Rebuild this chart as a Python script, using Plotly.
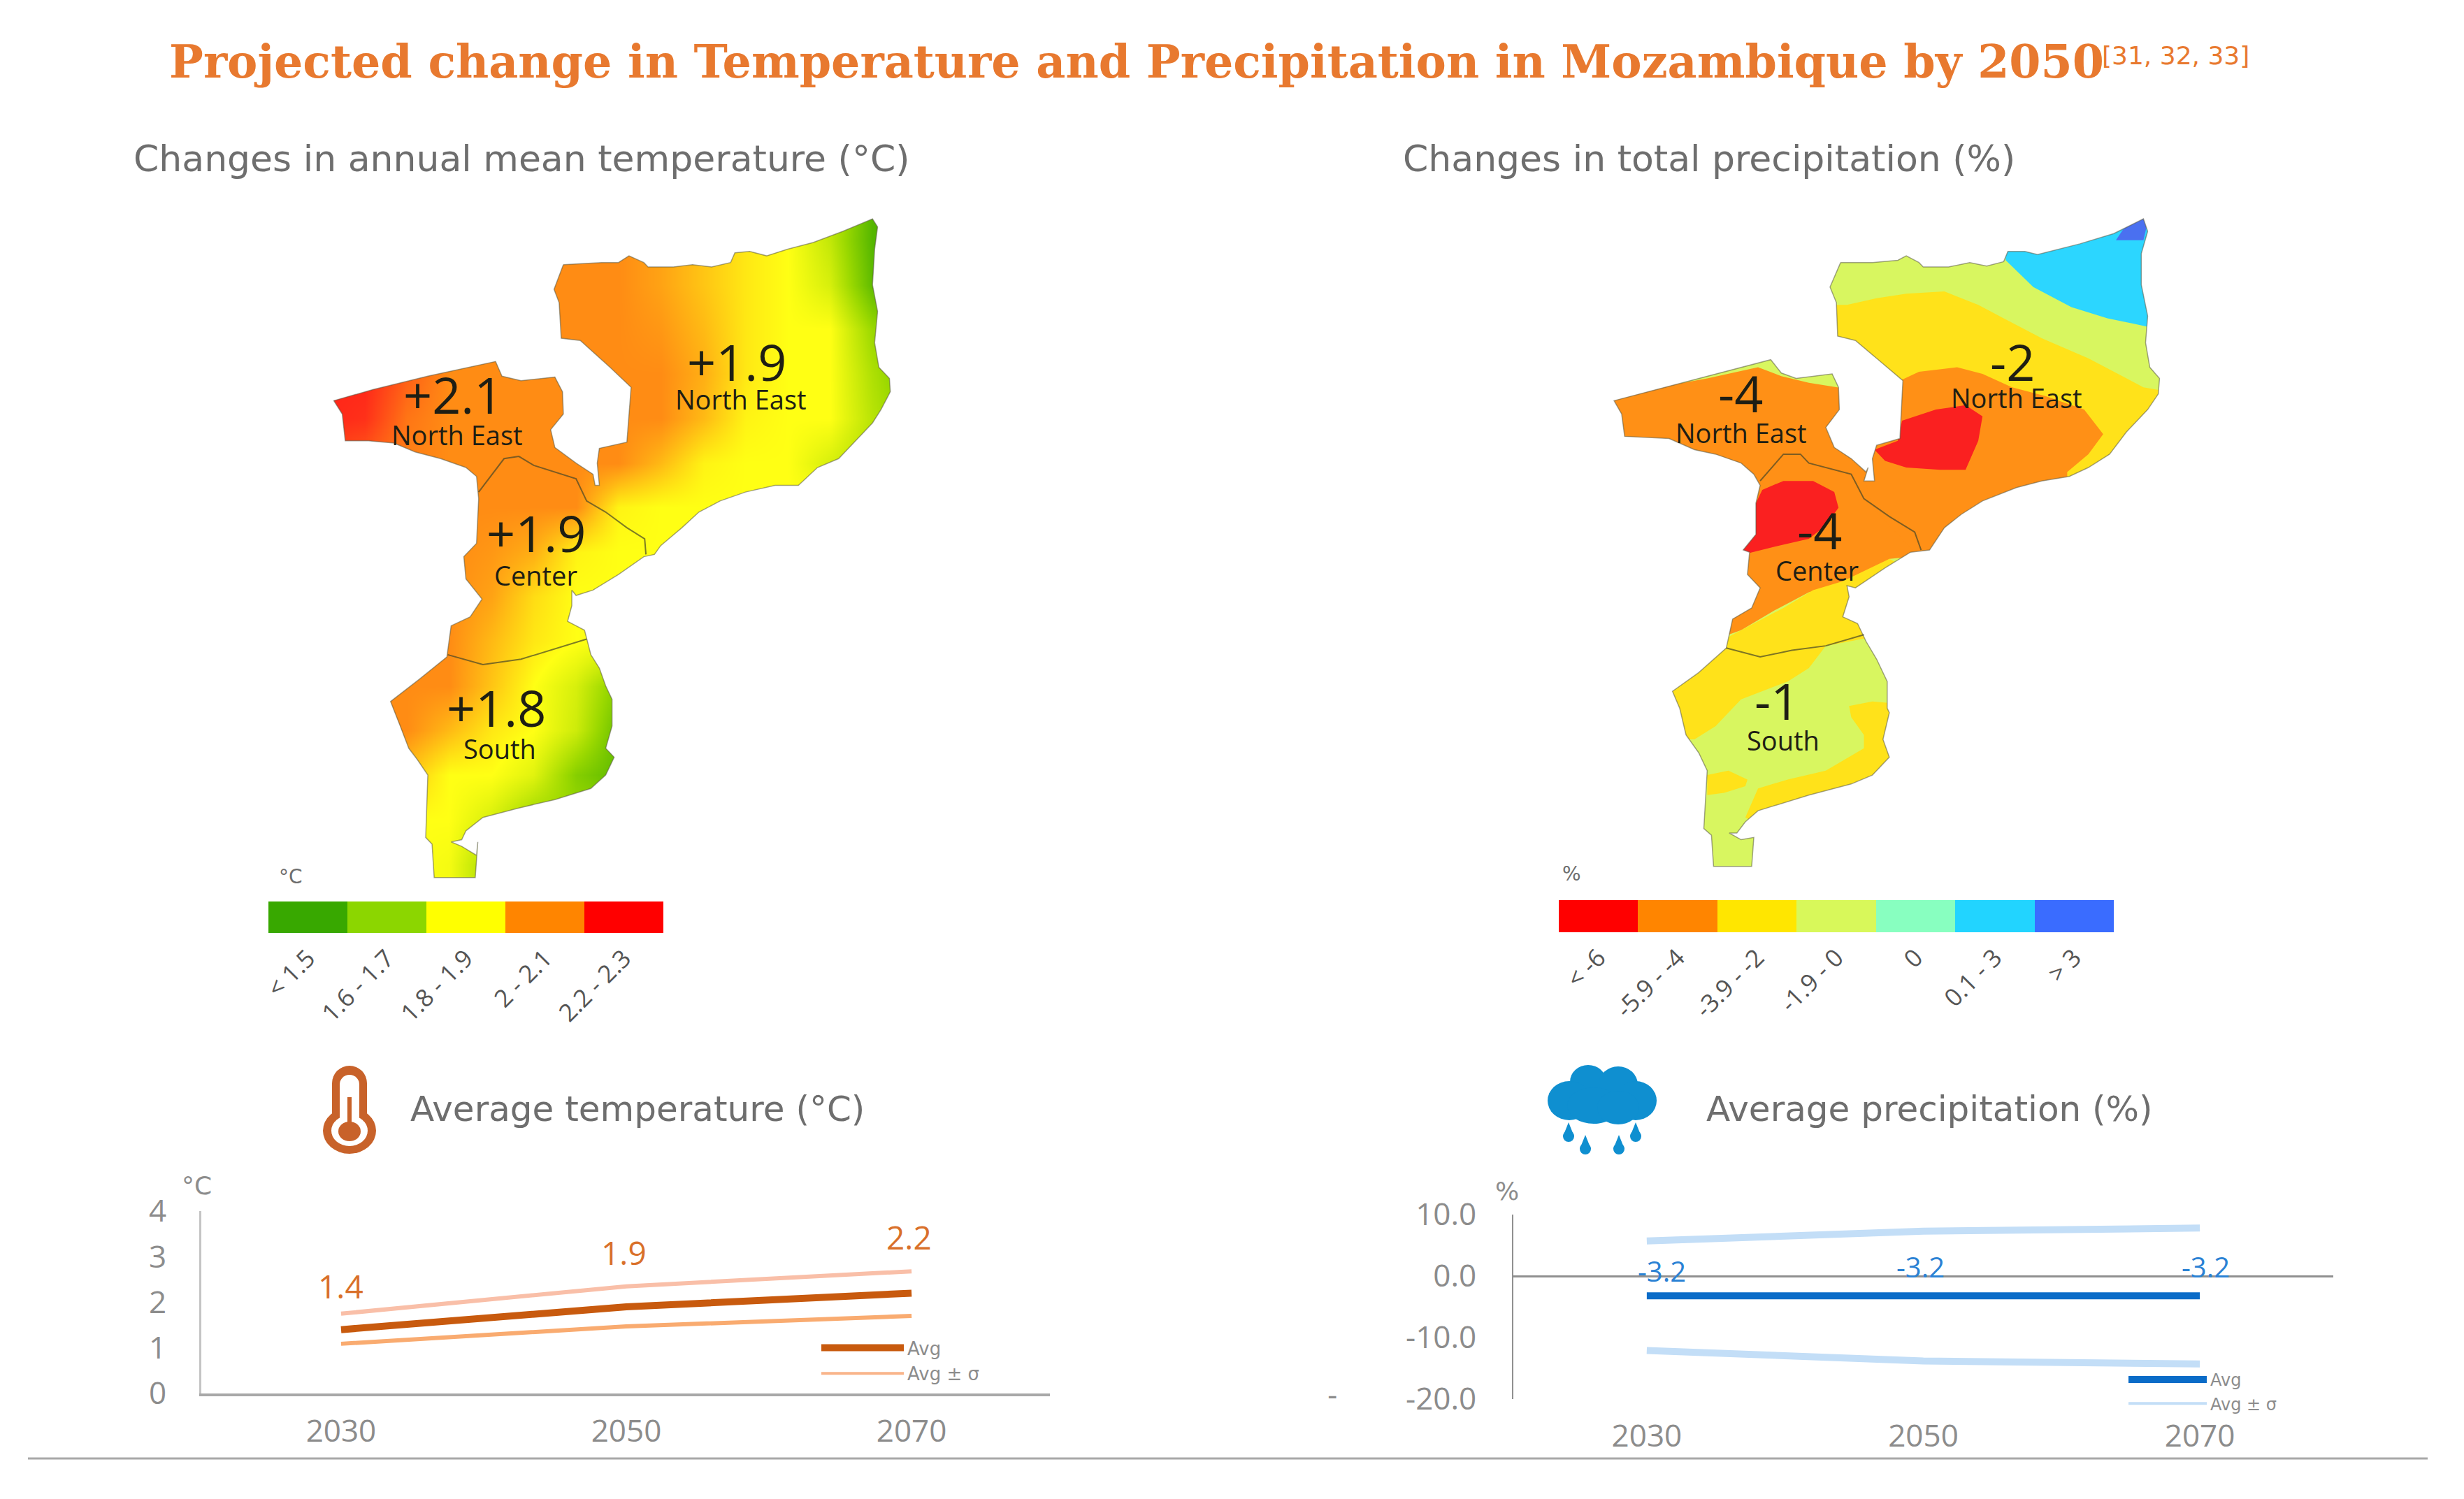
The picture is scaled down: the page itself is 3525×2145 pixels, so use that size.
import plotly.graph_objects as go

W, H = 3525, 2145

# ---------- data ----------
TITLE = "Projected change in Temperature and Precipitation in Mozambique by 2050"
years = [2030, 2050, 2070]
temp_avg = [1.4, 1.9, 2.2]
temp_upper = [1.75, 2.35, 2.68]
temp_lower = [1.09, 1.47, 1.70]
prec_avg = [-3.2, -3.2, -3.2]
prec_upper = [5.7, 7.3, 7.8]
prec_lower = [-12.1, -13.8, -14.3]
temp_ticks = [0, 1, 2, 3, 4]
prec_ticks = [-20, -10, 0, 10]
prec_ticktext = ["-20.0", "-10.0", "0.0", "10.0"]

temp_classes = ["< 1.5", "1.6 - 1.7", "1.8 - 1.9", "2 - 2.1", "2.2 - 2.3"]
temp_class_colors = ["#38a800", "#8cd600", "#ffff00", "#ff8500", "#ff0000"]
prec_classes = ["< -6", "-5.9 - -4", "-3.9 - -2", "-1.9 - 0", "0", "0.1 - 3", "> 3"]
prec_class_colors = ["#ff0000", "#ff8500", "#ffe600", "#d8f85a", "#88ffc0", "#22d4ff", "#3a6cff"]

# map outlines and zones (in the map's own drawing units)
outline_temp = [(670,155),(760,150),(800,150),(825,135),(860,150),(870,160),(930,160),(975,155),(1020,160),(1065,150),(1075,128),(1110,125),(1150,135),(1200,120),(1260,105),(1330,80),(1400,52),(1412,70),(1405,120),(1400,200),(1412,260),(1405,330),(1415,385),(1440,410),(1442,440),(1420,480),(1400,510),(1360,550),(1320,590),(1270,610),(1225,650),(1170,650),(1100,665),(1040,685),(990,710),(950,745),(900,785),(885,805),(860,810),(800,850),(740,885),(700,897),(690,885),(690,920),(680,955),(720,975),(735,1030),(755,1060),(770,1100),(785,1130),(785,1190),(770,1240),(790,1260),(770,1300),(735,1330),(650,1355),(560,1375),(480,1395),(440,1425),(430,1445),(405,1450),(430,1460),(465,1480),(468,1450),(462,1530),(365,1530),(360,1455),(345,1440),(350,1300),(325,1265),(305,1240),(285,1190),(262,1135),(330,1085),(395,1035),(405,965),(450,945),(478,905),(440,860),(435,810),(465,780),(470,680),(465,630),(440,610),(380,590),(320,575),(270,555),(210,550),(155,550),(148,490),(128,460),(220,435),(350,405),(510,372),(525,405),(570,415),(650,407),(668,440),(670,490),(640,525),(650,565),(700,600),(740,625),(745,650),(755,650),(750,600),(755,567),(820,553),(830,430),(780,385),(710,325),(665,320),(660,240),(648,210),(670,155)]
borders_temp = [[(470,665),(530,590),(565,585),(600,605),(700,635),(725,685),(770,710),(820,745),(862,770),(865,805)],
                [(397,1030),(480,1052),(570,1040),(640,1020),(725,995)]]
grid_x = [100,200,300,400,500,600,700,800,900,1000,1100,1200,1300,1400,1500]
grid_y = [0,100,200,300,400,500,600,700,800,900,1000,1100,1200,1300,1400,1500,1600]
temp_field = [
 [3.9,3.9,3.4,3,3,3,3,3,2.8,2.5,2.2,2,1.5,.3,0],
 [3.9,3.9,3.4,3,3,3,3,3,2.8,2.5,2.2,2,1.4,.3,0],
 [3.9,3.9,3.4,3,3,3,3,3,2.8,2.5,2.2,2,1.6,.4,0],
 [3.9,3.9,3.4,3,3,3,3,3,2.9,2.6,2.2,2,2,1.0,.5],
 [3.9,3.9,3.4,3,3,3,3,3,3,2.7,2.2,2,2,1.2,.6],
 [3.9,3.8,3.2,3,3,3,3,3,3,2.6,2.1,2,2,1.3,.8],
 [3.6,3.4,3.1,3,3,3,3,3,2.6,2.1,2,2,1.6,1.2,1],
 [3,3,3,3,3,3,3,2.1,2,2,2,2,2,2,2],
 [3,3,3,3,2.9,2.7,2.1,2,2,2,2,2,2,2,2],
 [3,3,3,3,2.8,2.3,2,2,2,2,2,2,2,2,2],
 [3,3,3,3,2.6,2.2,2,1.9,2,2,2,2,2,2,2],
 [3,3,3,3,2.5,2,1.6,.8,.5,.5,.5,.5,.5,.5,.5],
 [3,3,3,2.6,2.2,2,1.5,.5,.5,.5,.5,.5,.5,.5,.5],
 [3,3,2.5,2,2,1.7,.8,.4,.4,.4,.4,.4,.4,.4,.4],
 [2,2,2,2,1.6,1,1,1,1,1,1,1,1,1,1],
 [2,2,2,1.9,1.1,.8,.8,.8,.8,.8,.8,.8,.8,.8,.8],
 [2,2,2,1.9,1.1,.8,.8,.8,.8,.8,.8,.8,.8,.8,.8],
]

outline_prec = [(715,150),(790,150),(850,145),(870,135),(900,150),(910,160),(970,160),(1020,150),(1060,158),(1100,148),(1110,125),(1150,125),(1180,132),(1280,108),(1360,85),(1430,52),(1440,80),(1425,130),(1425,200),(1440,270),(1435,330),(1445,385),(1468,410),(1465,445),(1440,480),(1390,530),(1350,580),(1300,610),(1255,630),(1190,640),(1130,655),(1050,685),(1000,715),(960,745),(925,795),(880,800),(820,835),(750,880),(730,875),(735,900),(720,945),(755,960),(775,1000),(800,1040),(825,1090),(825,1150),(830,1160),(815,1220),(830,1260),(790,1300),(740,1320),(640,1345),(520,1380),(490,1405),(470,1430),(452,1430),(480,1445),(510,1440),(505,1505),(415,1505),(410,1435),(392,1420),(400,1290),(380,1250),(350,1210),(335,1150),(318,1112),(380,1070),(445,1015),(460,950),(505,925),(525,880),(495,850),(500,800),(485,795),(515,760),(515,690),(525,650),(510,625),(480,600),(420,580),(370,570),(310,545),(205,540),(198,490),(180,460),(280,435),(400,405),(550,368),(575,398),(610,410),(695,400),(710,430),(712,480),(680,520),(700,565),(740,590),(775,620),(780,610),(770,640),(795,640),(790,590),(800,560),(855,545),(862,415),(800,365),(750,325),(708,315),(705,240),(690,205),(715,150)]
borders_prec = [[(525,640),(580,580),(620,580),(640,600),(740,625),(770,680),(830,720),(890,755),(905,795)],
                [(445,1015),(525,1035),(600,1020),(680,1010),(770,985)]]
zone_prec_base = [(150,20),(1500,20),(1500,1540),(150,1540)]
zone_cyan = [(1105,145),(1170,205),(1260,250),(1345,275),(1445,295),(1460,40),(1100,100)]
zone_navy = [(1365,100),(1430,100),(1445,40),(1400,50)]
zone_yellow_n = [(680,245),(730,245),(800,230),(870,220),(960,215),(1040,245),(1100,275),(1190,320),(1300,365),(1430,430),(1490,440),(1400,660),(1200,670),(850,660),(680,340)]
zone_orange_w = [(170,450),(400,410),(520,385),(575,405),(640,420),(720,432),(730,520),(790,620),(800,700),(905,790),(935,805),(830,815),(770,860),(730,868),(640,890),(560,930),(480,975),(450,985),(440,800),(440,600),(190,560)]
zone_orange_n = [(855,415),(900,395),(990,385),(1050,400),(1120,430),(1200,450),(1290,480),(1335,535),(1300,580),(1250,620),(1250,650),(1100,690),(950,790),(900,810),(790,700),(770,630),(780,560),(855,530)]
zone_yellow_c = [(450,990),(500,965),(580,925),(650,885),(720,865),(830,815),(860,830),(740,890),(790,990),(680,1010),(640,1060),(590,1090),(480,1130),(420,1190),(370,1220),(340,1220),(290,1110),(440,1000)]
zone_yellow_coast = [(490,1395),(520,1330),(590,1310),(680,1290),(770,1240),(770,1210),(740,1170),(735,1145),(790,1135),(850,1140),(850,1270),(740,1350),(520,1410)]
zone_yellow_sw = [(400,1300),(450,1290),(495,1310),(490,1325),(440,1340),(400,1345)]
zone_red_n = [(795,570),(850,550),(860,505),(940,480),(1010,470),(1050,495),(1040,550),(1010,615),(950,615),(870,610),(820,595)]
zone_red_c = [(515,690),(530,660),(580,640),(650,640),(700,665),(710,700),(680,740),(640,770),(570,785),(485,805),(485,790),(510,765)]
prec_zones = [(zone_prec_base, "#d8f660"), (zone_cyan, "#2cd6ff"), (zone_navy, "#4a70f0"),
              (zone_yellow_n, "#ffe21a"), (zone_orange_w, "#ff9016"), (zone_orange_n, "#ff9016"),
              (zone_yellow_c, "#ffe21a"), (zone_yellow_coast, "#ffe21a"), (zone_yellow_sw, "#ffe21a"),
              (zone_red_n, "#fa2020"), (zone_red_c, "#fa2020")]

temp_map_labels = [("+2.1", 410, 445), ("+1.9", 1080, 372), ("+1.9", 605, 755), ("+1.8", 512, 1148)]
temp_region_labels = [("North East", 420, 537), ("North East", 1090, 456), ("Center", 605, 852), ("South", 520, 1240)]
prec_map_labels = [("-4", 478, 442), ("-2", 1120, 372), ("-4", 665, 750), ("-1", 565, 1132)]
prec_region_labels = [("North East", 480, 532), ("North East", 1130, 453), ("Center", 660, 840), ("South", 580, 1222)]

# ---------- helpers ----------
FONT = "Open Sans"
WIDE = "DejaVu Sans"
GREY = "#8c8c8c"
TXT = "#6e6e6e"
ORANGE = "#e8792f"

def px(x0, x1):
    return [x0 / W, x1 / W]
def py(y_top, y_bot):
    return [1 - y_bot / H, 1 - y_top / H]
def xs(pts):
    return [p[0] for p in pts]
def ys(pts):
    return [p[1] for p in pts]

fig = go.Figure()
def poly(pts, color, ax):
    fig.add_trace(go.Scatter(x=xs(pts), y=ys(pts), mode="lines", fill="toself", fillcolor=color,
                             line=dict(width=0, color=color), hoverinfo="skip", showlegend=False,
                             xaxis="x" + ax, yaxis="y" + ax))
def mask_and_border(outline, borders, ax):
    x0, y0 = outline[0]
    frame = [(x0, -40), (1610, -40), (1610, 1610), (-40, 1610), (-40, -40), (x0, -40)]
    poly(frame + outline[::-1], "#ffffff", ax)
    fig.add_trace(go.Scatter(x=xs(outline), y=ys(outline), mode="lines", hoverinfo="skip", showlegend=False,
                             line=dict(width=1.5, color="rgba(90,90,70,0.55)"), xaxis="x" + ax, yaxis="y" + ax))
    for b in borders:
        fig.add_trace(go.Scatter(x=xs(b), y=ys(b), mode="lines", hoverinfo="skip", showlegend=False,
                                 line=dict(width=2, color="rgba(70,70,40,0.7)"), xaxis="x" + ax, yaxis="y" + ax))

# left map
fig.add_trace(go.Heatmap(x=grid_x, y=grid_y, z=temp_field, zmin=0, zmax=4, zsmooth="best", showscale=False,
                         hoverinfo="skip", xaxis="x", yaxis="y",
                         colorscale=[[0, "#38a800"], [.25, "#9ad800"], [.5, "#ffff14"], [.75, "#ff8c14"], [1, "#ff1a1a"]]))
mask_and_border(outline_temp, borders_temp, "")
# right map
for pts, c in prec_zones:
    poly(pts, c, "2")
mask_and_border(outline_prec, borders_prec, "2")

# class bars
fig.add_trace(go.Bar(x=temp_classes, y=[1] * len(temp_classes), width=1, marker=dict(color=temp_class_colors, line=dict(width=0)),
                     hoverinfo="skip", showlegend=False, xaxis="x3", yaxis="y3"))
fig.add_trace(go.Bar(x=prec_classes, y=[1] * len(prec_classes), width=1, marker=dict(color=prec_class_colors, line=dict(width=0)),
                     hoverinfo="skip", showlegend=False, xaxis="x4", yaxis="y4"))

# line charts
def line(x, y, name, color, w, ax, legend, show):
    fig.add_trace(go.Scatter(x=x, y=y, mode="lines", name=name, line=dict(color=color, width=w),
                             xaxis="x" + ax, yaxis="y" + ax, legend=legend, showlegend=show, hoverinfo="skip"))
line(years, temp_upper, "Avg ± σ", "#f9bfa8", 6, "5", "legend", False)
line(years, temp_lower, "Avg ± σ", "#f9ab70", 6, "5", "legend", False)
line(years, temp_avg, "Avg", "#c85a0e", 10, "5", "legend", True)
fig.add_trace(go.Scatter(x=[None], y=[None], mode="lines", name="Avg ± σ", line=dict(color="#f9b48a", width=4),
                         xaxis="x5", yaxis="y5", legend="legend", showlegend=True))
line(years, prec_upper, "Avg ± σ", "#c3def7", 10, "6", "legend2", False)
line(years, prec_lower, "Avg ± σ", "#c3def7", 10, "6", "legend2", False)
line(years, prec_avg, "Avg", "#0a6cc8", 10, "6", "legend2", True)
fig.add_trace(go.Scatter(x=[None], y=[None], mode="lines", name="Avg ± σ", line=dict(color="#c3def7", width=4),
                         xaxis="x6", yaxis="y6", legend="legend2", showlegend=True))

# ---------- annotations ----------
ann = []
def T(text, x, y, size, color=TXT, xanchor="left", family=WIDE, bold=False):
    ann.append(dict(text=f"<b>{text}</b>" if bold else text, x=x / W, y=1 - y / H, xref="paper", yref="paper",
                    xanchor=xanchor, yanchor="middle", showarrow=False, font=dict(family=family, size=size, color=color)))
T(TITLE, 240, 88, 65, ORANGE, family="DejaVu Serif", bold=True)
T("[31, 32, 33]", 3005, 79, 36, ORANGE)
T("Changes in annual mean temperature (°C)", 189, 227, 52)
T("Changes in total precipitation (%)", 2005, 227, 52)
T("Average temperature (°C)", 585, 1587, 50)
T("Average precipitation (%)", 2439, 1587, 50)
T("°C", 416, 1254, 28, xanchor="center")
T("%", 2248, 1250, 28, xanchor="center")
T("°C", 281, 1697, 36, GREY, xanchor="center")
T("%", 2156, 1704, 36, GREY, xanchor="center")
T("-", 1906, 1997, 40, GREY, xanchor="center")

def map_text(labels, size, ax):
    for s, x, y in labels:
        ann.append(dict(text=s, x=x, y=y, xref=ax, yref=ax.replace("x", "y"), showarrow=False,
                        font=dict(family=FONT, size=size, color="#1e1e14")))
map_text(temp_map_labels, 72, "x")
map_text(temp_region_labels, 38, "x")
map_text(prec_map_labels, 72, "x2")
map_text(prec_region_labels, 38, "x2")

for yr, v, xs_, ysh in zip(years, temp_avg, [0, -4, -4], [63, 78, 80]):
    ann.append(dict(text=str(v), x=yr, y=v, xref="x5", yref="y5", xshift=xs_, yshift=ysh, showarrow=False,
                    font=dict(family=FONT, size=46, color="#d9702a")))
for yr, v, xs_, ysh in zip(years, prec_avg, [22, -4, 8], [36, 42, 42]):
    ann.append(dict(text=str(v), x=yr, y=v, xref="x6", yref="y6", xshift=xs_, yshift=ysh, showarrow=False,
                    font=dict(family=FONT, size=40, color="#2b82d4")))

# ---------- icons and rule ----------
shapes = []
def X(x): return x / W
def Y(y): return 1 - y / H
def ell(cx, cy, rx, ry, color):
    shapes.append(dict(type="circle", xref="paper", yref="paper", x0=X(cx - rx), x1=X(cx + rx), y0=Y(cy + ry), y1=Y(cy - ry),
                       fillcolor=color, line=dict(width=0)))
def rect(x0, y0, x1, y1, color):
    shapes.append(dict(type="rect", xref="paper", yref="paper", x0=X(x0), x1=X(x1), y0=Y(y1), y1=Y(y0),
                       fillcolor=color, line=dict(width=0)))
TH = "#c8622a"
ell(500, 1550, 25, 25, TH); rect(475, 1550, 525, 1610, TH); ell(500, 1618, 38, 33, TH)
ell(500, 1552, 14, 14, "#fff"); rect(486, 1552, 514, 1605, "#fff"); ell(500, 1618, 26, 22, "#fff")
rect(497, 1570, 503, 1610, TH); ell(500, 1619, 16, 14, TH)
CL = "#0f8fd0"
ell(2272, 1548, 26, 24, CL); ell(2315, 1552, 28, 26, CL); ell(2245, 1575, 31, 28, CL)
ell(2340, 1575, 30, 28, CL); ell(2280, 1582, 38, 26, CL); ell(2315, 1585, 30, 24, CL)
for cx, cy in [(2244, 1626), (2340, 1626), (2268, 1644), (2316, 1644)]:
    ell(cx, cy, 8, 8, CL)
    shapes.append(dict(type="path", xref="paper", yref="paper", fillcolor=CL, line=dict(width=0),
                       path=f"M {X(cx-8)} {Y(cy)} L {X(cx)} {Y(cy-20)} L {X(cx+8)} {Y(cy)} Z"))
shapes.append(dict(type="line", xref="paper", yref="paper", x0=X(40), x1=X(3473), y0=Y(2087), y1=Y(2087),
                   line=dict(color="#a8a8a8", width=3)))

hidden = dict(visible=False, fixedrange=True)
tick = dict(family=FONT, size=44, color=GREY)
layout = dict(
    width=W, height=H, margin=dict(l=0, r=0, t=0, b=0, autoexpand=False), autosize=False, paper_bgcolor="white", plot_bgcolor="rgba(0,0,0,0)",
    bargap=0, annotations=ann, shapes=shapes,
    xaxis=dict(domain=px(400, 1350), range=[0, 1568], **hidden),
    yaxis=dict(domain=py(280, 1280), range=[1568, 0], **hidden),
    xaxis2=dict(domain=px(2200, 3150), range=[0, 1568], anchor="y2", **hidden),
    yaxis2=dict(domain=py(280, 1280), range=[1568, 0], anchor="x2", **hidden),
    xaxis3=dict(domain=px(384, 949), anchor="y3", type="category", categoryorder="array", categoryarray=temp_classes,
                range=[-0.5, 4.5], tickangle=-45, ticks="", showline=False, showgrid=False, fixedrange=True, ticklabelstandoff=8,
                tickfont=dict(family=FONT, size=35, color="#555555")),
    yaxis3=dict(domain=py(1290, 1335), anchor="x3", range=[0, 1], **hidden),
    xaxis4=dict(domain=px(2230, 3024), anchor="y4", type="category", categoryorder="array", categoryarray=prec_classes,
                range=[-0.5, 6.5], tickangle=-45, ticks="", showline=False, showgrid=False, fixedrange=True, ticklabelstandoff=8,
                tickfont=dict(family=FONT, size=35, color="#555555")),
    yaxis4=dict(domain=py(1288, 1334), anchor="x4", range=[0, 1], **hidden),
    xaxis5=dict(domain=px(288, 1502), anchor="y5", range=[2020.2, 2079.7], tickvals=years, ticks="", showgrid=False,
                zeroline=False, showline=True, linecolor="#a8a8a8", linewidth=4, tickfont=tick, ticklabelstandoff=12, fixedrange=True),
    yaxis5=dict(domain=py(1733, 1994), anchor="x5", range=[0, 4], tickvals=temp_ticks, ticks="", showgrid=False,
                zeroline=False, showline=True, linecolor="#c4c4c4", linewidth=3, tickfont=tick, ticklabelstandoff=38, fixedrange=True),
    xaxis6=dict(domain=px(2165, 3338), anchor="y6", range=[2020.35, 2079.65], tickvals=years, ticks="", showgrid=False,
                zeroline=False, showline=False, tickfont=tick, ticklabelstandoff=23, fixedrange=True),
    yaxis6=dict(domain=py(1738, 2002), anchor="x6", range=[-20, 10], tickvals=prec_ticks, ticktext=prec_ticktext, ticks="",
                showgrid=False, zeroline=True, zerolinecolor="#909090", zerolinewidth=3, showline=True, linecolor="#909090",
                linewidth=2, tickfont=tick, ticklabelstandoff=42, fixedrange=True),
    legend=dict(x=1170 / W, y=1 - 1905 / H, xanchor="left", yanchor="top", bgcolor="rgba(0,0,0,0)", itemwidth=118,
                font=dict(family=WIDE, size=26, color=GREY), traceorder="normal", tracegroupgap=0, itemclick=False, itemdoubleclick=False),
    legend2=dict(x=3040 / W, y=1 - 1952 / H, xanchor="left", yanchor="top", bgcolor="rgba(0,0,0,0)", itemwidth=112,
                 font=dict(family=WIDE, size=24, color=GREY), traceorder="normal", tracegroupgap=0, itemclick=False, itemdoubleclick=False),
    hovermode=False,
)
fig.update_layout(**layout)
fig.write_html("out.html", post_script="document.body.style.margin='0';", config={"displayModeBar": False})
